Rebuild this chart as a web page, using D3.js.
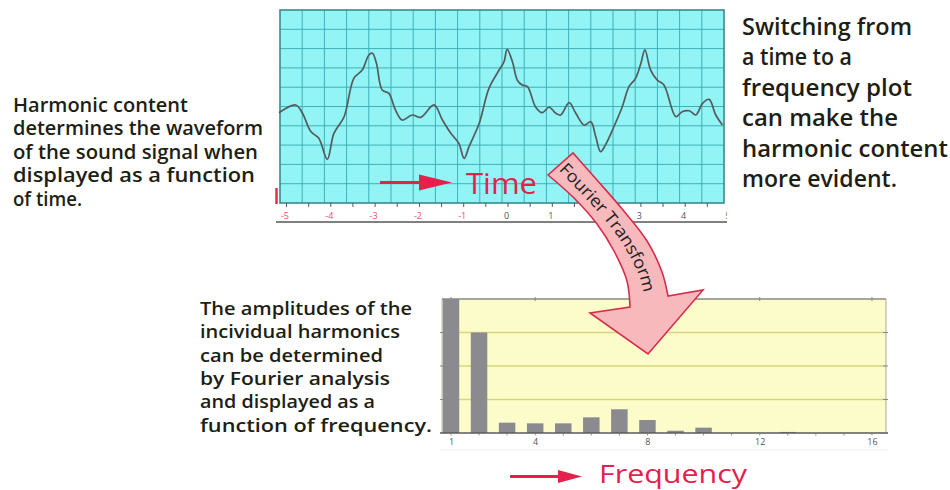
<!DOCTYPE html>
<html>
<head>
<meta charset="utf-8">
<script src="https://cdn.jsdelivr.net/npm/d3@7"></script>
<style>
  html, body { margin: 0; padding: 0; background: #ffffff; }
  svg { display: block; }
</style>
</head>
<body>
<svg id="chart" width="950" height="490"></svg>
<script>
// ---------------- DATA ----------------
// Time-domain waveform: time (axis units) and amplitude (grid units)
const waveT = [-5.17,-4.79,-4.64,-4.45,-4.27,-4.08,-3.93,-3.70,-3.48,-3.29,-3.14,-3.06,-2.97,-2.84,-2.69,-2.54,-2.39,-2.16,-1.97,-1.67,-1.48,-1.29,-1.11,-0.99,-0.88,-0.65,-0.43,-0.20,-0.09,-0.02,0.10,0.21,0.32,0.44,0.62,0.77,0.93,1.08,1.19,1.38,1.53,1.72,1.87,1.98,2.09,2.20,2.39,2.58,2.73,2.88,3.00,3.09,3.22,3.37,3.52,3.79,3.93,4.09,4.24,4.39,4.54,4.69,4.84];
const waveV = [-0.32,0.08,-0.35,-1.30,-1.65,-2.74,-1.39,-0.53,1.46,1.89,2.67,2.76,2.24,0.85,0.68,-0.18,-0.70,-0.44,-0.56,0.08,-0.70,-1.39,-1.91,-2.69,-2.08,-0.87,0.94,1.89,2.32,2.96,2.32,1.37,1.11,1.03,-0.01,-0.32,-0.04,-0.35,-0.44,0.20,-0.35,-0.96,-0.79,-1.56,-2.34,-1.99,-1.05,-0.01,1.03,1.46,2.24,2.93,1.89,1.37,1.11,-0.53,-0.27,-0.22,-0.44,0.16,0.37,-0.44,-0.96];
// visible time tick labels ("2" is hidden behind the arrow in the original)
const timeTicks = [-5,-4,-3,-2,-1,0,1,3,4,5];

// Frequency-domain harmonic amplitudes (relative)
const harmonics = [1,2,3,4,5,6,7,8,9,10,11,12,13,14,15,16];
const amplitudes = [1.0,0.75,0.077,0.072,0.072,0.117,0.177,0.097,0.017,0.04,0,0,0.008,0,0,0];
const freqTicks = [1,4,8,12,16];

// Captions
const leftText = ["Harmonic content","determines the waveform","of the sound signal when","displayed as a function","of time."];
const rightText = ["Switching from","a time to a","frequency plot","can make the","harmonic content","more evident."];
const bottomText = ["The amplitudes of the","incividual harmonics","can be determined","by Fourier analysis","and displayed as a","function of frequency."];
const timeLabel = "Time";
const freqLabel = "Frequency";
const ftLabel = "Fourier Transform";

// ---------------- LAYOUT ----------------
const leftWidths = [175, 250, 245, 242, 69];
const rightWidths = [170, 110, 170, 156, 206, 155];
const bottomWidths = [212, 200, 183, 190, 175, 232];

const svg = d3.select("#chart");
const FONT = "'Open Sans', 'DejaVu Sans', sans-serif";
const RED = "#e3214b";

svg.append("rect").attr("width", 950).attr("height", 490).attr("fill", "#ffffff");
const defs = svg.append("defs");

// ===== Time plot =====
const tBox = {x0: 280, x1: 724, y0: 10, y1: 203};
const xT = d3.scaleLinear().domain([-5, 5]).range([286.5, 729.5]);
const yT = d3.scaleLinear().domain([-5, 5]).range([tBox.y1, tBox.y0]);

const tg = svg.append("g");
tg.append("rect")
  .attr("x", tBox.x0).attr("y", tBox.y0)
  .attr("width", tBox.x1 - tBox.x0).attr("height", tBox.y1 - tBox.y0)
  .attr("fill", "#93f4f6");

const gx = d3.scaleLinear().domain([0, 20]).range([tBox.x0, tBox.x1]);
const gy = d3.scaleLinear().domain([0, 10]).range([tBox.y0, tBox.y1]);
tg.selectAll("line.vg").data(d3.range(1, 20)).join("line")
  .attr("x1", d => gx(d)).attr("x2", d => gx(d))
  .attr("y1", tBox.y0).attr("y2", tBox.y1)
  .attr("stroke", "#3fb0b8").attr("stroke-width", 1);
tg.selectAll("line.hg").data(d3.range(1, 10)).join("line")
  .attr("y1", d => gy(d)).attr("y2", d => gy(d))
  .attr("x1", tBox.x0).attr("x2", tBox.x1)
  .attr("stroke", "#3fb0b8").attr("stroke-width", 1);

tg.append("rect")
  .attr("x", tBox.x0).attr("y", tBox.y0)
  .attr("width", tBox.x1 - tBox.x0).attr("height", tBox.y1 - tBox.y0)
  .attr("fill", "none").attr("stroke", "#3b8a8c").attr("stroke-width", 1.6);

const wave = waveT.map((t, i) => [t, waveV[i]]);
tg.append("path")
  .attr("d", d3.line().x(d => xT(d[0])).y(d => yT(d[1])).curve(d3.curveCatmullRom.alpha(0.5))(wave))
  .attr("fill", "none").attr("stroke", "#555a5a").attr("stroke-width", 1.7);

defs.append("clipPath").attr("id", "clipT")
  .append("rect").attr("x", 272).attr("y", 200).attr("width", 455).attr("height", 30);
const axT = tg.append("g").attr("clip-path", "url(#clipT)");
axT.selectAll("line.tk").data(d3.range(-10, 11).map(d => d / 2)).join("line")
  .attr("x1", d => xT(d)).attr("x2", d => xT(d))
  .attr("y1", tBox.y1).attr("y2", tBox.y1 + 4)
  .attr("stroke", "#556").attr("stroke-width", 1);
axT.selectAll("text.tl").data(timeTicks).join("text")
  .attr("x", d => xT(d) - 1.5).attr("y", 218.5)
  .attr("text-anchor", "middle")
  .attr("font-family", FONT).attr("font-size", 9)
  .attr("fill", d => d < 0 ? "#e8506a" : "#555")
  .text(d => d);

tg.append("line").attr("x1", 276).attr("x2", 727).attr("y1", 222).attr("y2", 222)
  .attr("stroke", "#808080").attr("stroke-width", 2);
tg.append("line").attr("x1", 276.5).attr("x2", 276.5).attr("y1", 188).attr("y2", 204)
  .attr("stroke", "#e0304a").attr("stroke-width", 2.5);

function arrow(g, x0, x1, y, headLen, headHalf, shaft) {
  g.append("line").attr("x1", x0).attr("x2", x1 - headLen + 2).attr("y1", y).attr("y2", y)
    .attr("stroke", RED).attr("stroke-width", shaft);
  const p = d3.path();
  p.moveTo(x1, y); p.lineTo(x1 - headLen, y - headHalf); p.lineTo(x1 - headLen, y + headHalf); p.closePath();
  g.append("path").attr("d", p.toString()).attr("fill", RED);
}
arrow(tg, 380, 452, 182.5, 33, 8, 3);
tg.append("text").attr("x", 466).attr("y", 193.5)
  .attr("font-family", FONT).attr("font-size", 30).attr("fill", RED)
  .attr("textLength", 71).attr("lengthAdjust", "spacingAndGlyphs")
  .text(timeLabel);

// ===== Frequency plot =====
const fBox = {x0: 442, x1: 886, y0: 299, y1: 433};
const xF = d3.scaleLinear().domain([0.68, 16.5]).range([fBox.x0, fBox.x1]);
const yF = d3.scaleLinear().domain([0, 1]).range([fBox.y1, fBox.y0]);

const fg = svg.append("g");
fg.append("rect").attr("x", fBox.x0).attr("y", fBox.y0)
  .attr("width", fBox.x1 - fBox.x0).attr("height", fBox.y1 - fBox.y0)
  .attr("fill", "#fcfccb");
fg.selectAll("line.fg").data([0.25, 0.5, 0.75]).join("line")
  .attr("x1", fBox.x0).attr("x2", fBox.x1)
  .attr("y1", d => yF(d)).attr("y2", d => yF(d))
  .attr("stroke", "#d9d57a").attr("stroke-width", 1.3);
fg.append("line").attr("x1", fBox.x0).attr("x2", fBox.x1).attr("y1", fBox.y0).attr("y2", fBox.y0)
  .attr("stroke", "#8a8a80").attr("stroke-width", 1.3);
fg.append("line").attr("x1", fBox.x1).attr("x2", fBox.x1).attr("y1", fBox.y0).attr("y2", fBox.y1)
  .attr("stroke", "#a8a898").attr("stroke-width", 1);
fg.append("line").attr("x1", fBox.x0).attr("x2", fBox.x0).attr("y1", fBox.y0).attr("y2", fBox.y1)
  .attr("stroke", "#b8b8a8").attr("stroke-width", 1);
fg.selectAll("line.rt").data([0.25, 0.5, 0.75]).join("line")
  .attr("x1", fBox.x1 - 3).attr("x2", fBox.x1 + 2)
  .attr("y1", d => yF(d)).attr("y2", d => yF(d))
  .attr("stroke", "#888").attr("stroke-width", 1);
fg.selectAll("line.lt").data([0.25, 0.5, 0.75]).join("line")
  .attr("x1", fBox.x0 - 2).attr("x2", fBox.x0 + 2)
  .attr("y1", d => yF(d)).attr("y2", d => yF(d))
  .attr("stroke", "#888").attr("stroke-width", 1);
fg.selectAll("line.tt").data(freqTicks).join("line")
  .attr("x1", d => xF(d)).attr("x2", d => xF(d))
  .attr("y1", fBox.y0 - 2).attr("y2", fBox.y0 + 2)
  .attr("stroke", "#888").attr("stroke-width", 1);

const bw = 16.5;
fg.selectAll("rect.bar").data(harmonics.map((h, i) => ({h, a: amplitudes[i]})).filter(d => d.a > 0)).join("rect")
  .attr("x", d => xF(d.h) - bw / 2)
  .attr("width", bw)
  .attr("y", d => yF(d.a))
  .attr("height", d => Math.max(1, yF(0) - yF(d.a)))
  .attr("fill", "#8b8b8f");

fg.append("line").attr("x1", fBox.x0 - 2).attr("x2", fBox.x1 + 2).attr("y1", fBox.y1).attr("y2", fBox.y1)
  .attr("stroke", "#5a5a5a").attr("stroke-width", 1.6);
fg.selectAll("line.bt").data(harmonics).join("line")
  .attr("x1", d => xF(d)).attr("x2", d => xF(d))
  .attr("y1", fBox.y1).attr("y2", fBox.y1 + 2.5)
  .attr("stroke", "#777").attr("stroke-width", 0.8);
fg.selectAll("text.fl").data(freqTicks).join("text")
  .attr("x", d => xF(d) + 0.5).attr("y", 445)
  .attr("text-anchor", "middle")
  .attr("font-family", FONT).attr("font-size", 9).attr("fill", "#555")
  .text(d => d);
fg.append("line").attr("x1", 440).attr("x2", 888).attr("y1", 450).attr("y2", 450)
  .attr("stroke", "#ececec").attr("stroke-width", 1);

arrow(fg, 510, 582, 476.5, 24, 6.5, 3);
fg.append("text").attr("x", 599).attr("y", 482.5)
  .attr("font-family", FONT).attr("font-size", 25).attr("fill", RED)
  .attr("textLength", 148).attr("lengthAdjust", "spacingAndGlyphs")
  .text(freqLabel);

// ===== Captions =====
function caption(lines, widths, x, y0, dy, size) {
  svg.append("g").selectAll("text").data(lines).join("text")
    .attr("x", x).attr("y", (d, i) => y0 + i * dy)
    .attr("font-family", FONT).attr("font-weight", 600)
    .attr("font-size", size).attr("fill", "#1e1e14")
    .attr("textLength", (d, i) => widths[i]).attr("lengthAdjust", "spacingAndGlyphs")
    .text(d => d);
}
caption(leftText, leftWidths, 13, 111.5, 23.6, 19);
caption(rightText, rightWidths, 742, 35, 30.4, 23);
caption(bottomText, bottomWidths, 200, 315, 23.3, 17.5);

// ===== Fourier Transform curved arrow =====
const rightEdge = [[573,153],[597,180],[623,210],[647,241],[662,272],[668,296]];
const head = [[703,290],[648,354],[590,313],[630,307]];
const leftEdge = [[630,307],[627,281],[614,251],[597,224],[574,198],[548,175]];
const curve = d3.line().curve(d3.curveCatmullRom.alpha(0.5));
let dStr = "M548,175L573,153" + curve(rightEdge).replace(/^M[^CL]*/, "");
dStr += "L" + head.map(p => p.join(",")).join("L");
dStr += curve(leftEdge).replace(/^M[^CL]*/, "") + "Z";
svg.append("path").attr("d", dStr)
  .attr("fill", "#f8b9bd").attr("stroke", "#d42d4c").attr("stroke-width", 1.6)
  .attr("stroke-linejoin", "miter");

// text along the arrow's centre line, one glyph at a time
const mid = [[559,164],[585,191],[610,219],[631,249],[645,279],[650,304]];
const guide = defs.append("path").attr("d", curve(mid)).node();
const ftSize = 17, ftTarget = 154, ftStart = 4;
const meas = svg.append("text").attr("font-family", FONT).attr("font-size", ftSize).attr("opacity", 0);
const chars = ftLabel.split("");
const widths = chars.map(c => { meas.text(c === " " ? "\u00a0" : c); return meas.node().getComputedTextLength(); });
meas.remove();
const totalW = d3.sum(widths);
const sc = ftTarget / totalW;
let pos = ftStart;
const ftG = svg.append("g");
chars.forEach((c, i) => {
  const w = widths[i] * sc;
  const cpos = pos + w / 2;
  pos += w;
  if (c === " ") return;
  const p = guide.getPointAtLength(cpos);
  const p0 = guide.getPointAtLength(Math.max(0, cpos - 1));
  const p1 = guide.getPointAtLength(cpos + 1);
  const ang = Math.atan2(p1.y - p0.y, p1.x - p0.x) * 180 / Math.PI;
  ftG.append("text")
    .attr("transform", `translate(${p.x},${p.y}) rotate(${ang}) scale(${sc},1)`)
    .attr("text-anchor", "middle").attr("dominant-baseline", "middle")
    .attr("font-family", FONT).attr("font-size", ftSize).attr("fill", "#222")
    .text(c);
});
</script>
</body>
</html>
